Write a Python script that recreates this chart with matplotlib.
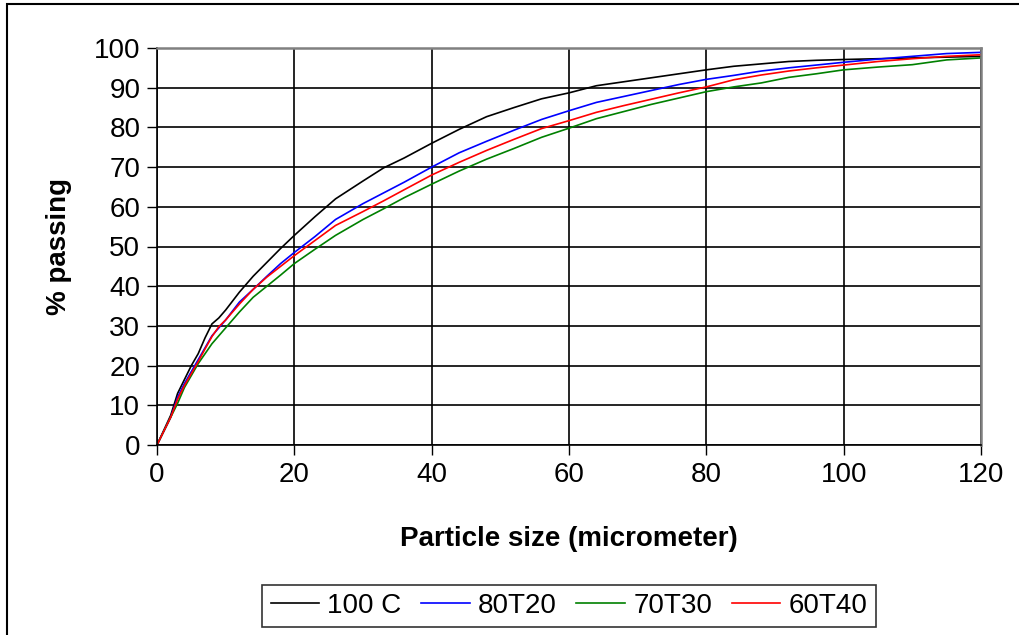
import numpy as np
import matplotlib
matplotlib.use("Agg")
from matplotlib import pyplot as plt
from matplotlib.patches import Rectangle

plt.rcParams['font.family'] = ['Liberation Sans', 'DejaVu Sans']

# particle size classes (micrometer)
size = [0, 2, 3, 4, 5, 6, 7, 8, 9, 10, 12, 14, 16, 18, 20, 23, 26, 30, 33, 36,
        40, 44, 48, 52, 56, 60, 64, 68, 72, 76, 80, 84, 88, 92, 96, 100, 105,
        110, 115, 120]

# cumulative % passing
c100 = [0, 7.5, 13, 16.5, 20, 23, 27, 30.5, 32, 34, 38.5, 42.5, 46, 49.5, 52.8,
        57.5, 62, 66.5, 69.8, 72.3, 76, 79.5, 82.7, 85, 87.2, 88.7, 90.5, 91.5,
        92.5, 93.5, 94.5, 95.4, 96, 96.6, 96.9, 97.1, 97.3, 97.5, 97.7, 97.9]
t80_20 = [0, 7, 12, 15.5, 18.5, 21.5, 24.5, 27.5, 29.5, 31.5, 36, 39.2, 42.5,
          45.7, 48.5, 52.5, 56.8, 60.8, 63.5, 66.2, 70, 73.6, 76.5, 79.3, 82,
          84.2, 86.3, 87.8, 89.3, 90.8, 92.1, 93.1, 94.2, 95.0, 95.7, 96.4,
          97.2, 97.9, 98.6, 98.9]
t70_30 = [0, 7, 10.5, 14.5, 17.5, 20.5, 23, 25.5, 27.5, 29.5, 33.5, 37.2, 40,
          42.8, 45.7, 49.3, 52.8, 56.8, 59.5, 62.3, 65.7, 69, 72, 74.7, 77.5,
          79.8, 82.2, 84, 85.8, 87.4, 89, 90.2, 91.2, 92.6, 93.5, 94.5, 95.2,
          95.8, 97, 97.5]
t60_40 = [0, 7, 11.5, 15, 18, 21, 24.2, 27.3, 29.8, 31.5, 35.5, 39.2, 42.3, 45,
          47.7, 51.5, 55.3, 58.8, 61.5, 64.3, 68, 71.2, 74.2, 77, 79.7, 81.7,
          83.8, 85.5, 87.1, 88.7, 90.2, 92, 93.2, 94.2, 95, 95.7, 96.6, 97.3,
          97.9, 98.3]

series = [("100 C", c100, "black"),
          ("80T20", t80_20, "blue"),
          ("70T30", t70_30, "green"),
          ("60T40", t60_40, "red")]

fs = 20

fig = plt.figure(figsize=(10.19, 6.35), dpi=100)
ax = fig.add_axes([157 / 1019, 1 - 445 / 635, 824 / 1019, 397 / 635])

for name, vals, col in series:
    ax.plot(size, vals, color=col, lw=1.2, label=name)

ax.set_xlim(0, 120)
ax.set_ylim(0, 100)
ax.set_xticks(np.arange(0, 121, 20))
ax.set_yticks(np.arange(0, 101, 10))
ax.grid(True, color="black", lw=1.2)
ax.set_axisbelow(True)

ax.tick_params(direction="out", length=7, width=1, labelsize=fs, color="black")
ax.tick_params(axis="x", pad=5)
ax.tick_params(axis="y", pad=5)
for s in ["left", "bottom"]:
    ax.spines[s].set_color("black")
    ax.spines[s].set_linewidth(1.2)
for s in ["top", "right"]:
    ax.spines[s].set_color("#808080")
    ax.spines[s].set_linewidth(1.8)

ax.set_xlabel("Particle size (micrometer)", fontsize=fs, fontweight="bold")
ax.set_ylabel("% passing", fontsize=fs, fontweight="bold")
ax.xaxis.set_label_coords(0.5, -0.205)
ax.yaxis.set_label_coords(-0.103, 0.5)

leg = fig.legend(loc="center", bbox_to_anchor=(569 / 1019, 1 - 606 / 635),
                 ncol=4, fontsize=fs, frameon=True, fancybox=False,
                 handlelength=1.75, columnspacing=0.7, handletextpad=0.3,
                 borderpad=0.3, borderaxespad=0)
leg.get_frame().set_edgecolor("black")
leg.get_frame().set_linewidth(1.2)

# outer chart border (cut off at right/bottom in the source)
fig.patches.append(Rectangle((7 / 1019, -0.1), 1.2, 1.1 - 4 / 635,
                             transform=fig.transFigure, fill=False,
                             edgecolor="black", lw=1.5))

fig.savefig("out.png", dpi=100)
